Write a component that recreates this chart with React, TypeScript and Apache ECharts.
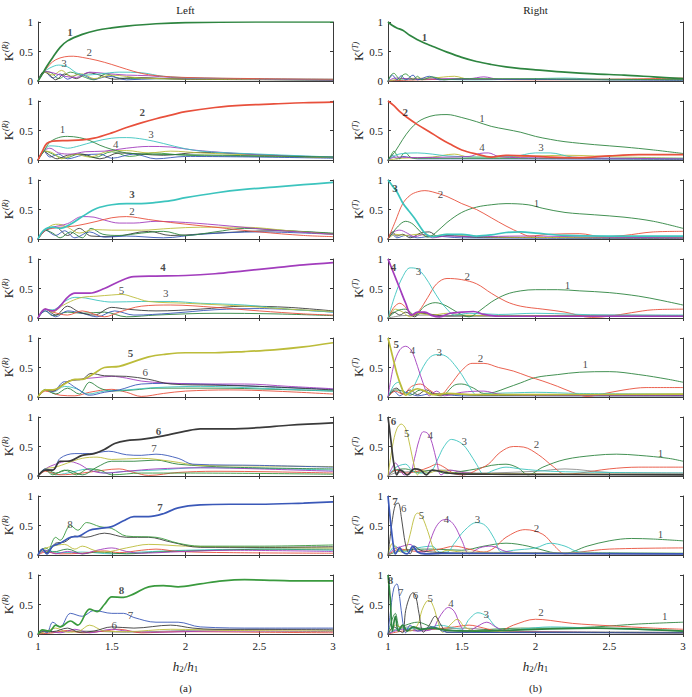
import React, { useEffect, useRef } from 'react';
import * as echarts from 'echarts';

type Curve = { m: number; main?: boolean; pts: number[][] };
type Lab = [number, number, string, boolean];

const X_TICKS = [1, 1.5, 2, 2.5, 3];
const Y_TICKS = [0, 0.5, 1];
const COLUMN_TITLES = ['Left', 'Right'];
const SUBFIG = ['(a)', '(b)'];
const Y_NAMES = ['R', 'T'];

const MODE_COLORS: Record<number, string> = {
  1: '#2e8540', 2: '#e8503c', 3: '#3cc4be', 4: '#a23dbd', 5: '#bcbc3a',
  6: '#3a3a3a', 7: '#3a58b8', 8: '#3a9a3e', 9: '#8c8c8c',
};

// ---------- LEFT column (reflection) ----------
const L1: Curve[] = [
  { m: 8, pts: [[1,0],[1.04,0.16],[1.09,0.14],[1.14,0.04],[1.22,0.15],[1.3,0.08],[1.38,0.02],[1.46,0.12],[1.55,0.05],[1.7,0.04],[3,0.02]] },
  { m: 7, pts: [[1,0],[1.05,0.15],[1.1,0.05],[1.15,0.12],[1.2,0.03],[1.28,0.12],[1.38,0.03],[1.48,0.08],[1.6,0.02],[1.8,0.04],[3,0.01]] },
  { m: 6, pts: [[1,0],[1.04,0.16],[1.08,0.1],[1.12,0.02],[1.18,0.12],[1.26,0.04],[1.34,0.14],[1.42,0.1],[1.52,0.03],[1.65,0.06],[2,0.03],[3,0.02]] },
  { m: 5, pts: [[1,0],[1.05,0.15],[1.1,0.1],[1.16,0.18],[1.22,0.08],[1.3,0.12],[1.38,0.04],[1.5,0.1],[1.7,0.05],[2.2,0.03],[3,0.02]] },
  { m: 4, pts: [[1,0],[1.05,0.16],[1.1,0.14],[1.18,0.08],[1.26,0.06],[1.35,0.15],[1.45,0.13],[1.6,0.1],[1.75,0.09],[1.9,0.06],[2.3,0.04],[3,0.02]] },
  { m: 3, pts: [[1,0],[1.04,0.15],[1.08,0.22],[1.14,0.27],[1.2,0.24],[1.26,0.14],[1.32,0.1],[1.42,0.12],[1.55,0.15],[1.7,0.14],[1.85,0.08],[2.1,0.05],[3,0.03]] },
  { m: 2, pts: [[1,0],[1.04,0.15],[1.08,0.28],[1.12,0.36],[1.18,0.41],[1.24,0.42],[1.3,0.4],[1.4,0.35],[1.5,0.28],[1.6,0.2],[1.7,0.13],[1.8,0.09],[2,0.06],[2.5,0.04],[3,0.03]] },
  { m: 1, main: true, pts: [[1,0],[1.03,0.12],[1.06,0.25],[1.1,0.4],[1.15,0.57],[1.2,0.68],[1.3,0.79],[1.4,0.86],[1.5,0.9],[1.6,0.93],[1.8,0.97],[2,0.99],[2.5,1],[3,1]] },
];
const L1_LABELS: Lab[] = [[1.22,0.82,'1',true],[1.35,0.48,'2',false],[1.18,0.3,'3',false]];

const L2: Curve[] = [
  { m: 8, pts: [[1,0],[1.05,0.15],[1.1,0.1],[1.18,0.03],[1.28,0.1],[1.38,0.04],[1.5,0.14],[1.62,0.06],[1.78,0.12],[2,0.08],[2.5,0.06],[3,0.04]] },
  { m: 7, pts: [[1,0],[1.04,0.15],[1.08,0.05],[1.14,0.1],[1.2,0.02],[1.3,0.08],[1.42,0.1],[1.5,0.03],[1.65,0.1],[1.8,0.02],[2,0.06],[3,0.03]] },
  { m: 6, pts: [[1,0],[1.04,0.15],[1.08,0.08],[1.13,0.02],[1.2,0.08],[1.3,0.1],[1.42,0.02],[1.55,0.12],[1.7,0.1],[1.85,0.08],[2.1,0.13],[2.4,0.1],[2.8,0.06],[3,0.05]] },
  { m: 5, pts: [[1,0],[1.05,0.15],[1.1,0.12],[1.16,0.02],[1.25,0.1],[1.35,0.05],[1.48,0.15],[1.6,0.16],[1.75,0.12],[1.9,0.15],[2.1,0.12],[2.5,0.08],[3,0.04]] },
  { m: 4, pts: [[1,0],[1.04,0.15],[1.08,0.2],[1.14,0.12],[1.22,0.1],[1.32,0.14],[1.45,0.15],[1.6,0.2],[1.75,0.23],[1.9,0.22],[2.05,0.17],[2.3,0.12],[2.6,0.08],[3,0.05]] },
  { m: 3, pts: [[1,0],[1.04,0.15],[1.08,0.24],[1.14,0.23],[1.2,0.2],[1.28,0.24],[1.38,0.31],[1.5,0.37],[1.6,0.38],[1.72,0.35],[1.85,0.28],[2,0.19],[2.15,0.14],[2.5,0.1],[3,0.05]] },
  { m: 1, pts: [[1,0],[1.04,0.15],[1.08,0.3],[1.14,0.38],[1.2,0.4],[1.28,0.38],[1.35,0.33],[1.42,0.25],[1.5,0.18],[1.6,0.12],[1.75,0.1],[2,0.09],[2.5,0.07],[3,0.05]] },
  { m: 2, main: true, pts: [[1,0],[1.03,0.15],[1.06,0.28],[1.1,0.32],[1.2,0.33],[1.3,0.34],[1.38,0.37],[1.5,0.46],[1.6,0.55],[1.7,0.63],[1.8,0.7],[1.9,0.76],[2,0.82],[2.2,0.89],[2.4,0.93],[2.6,0.95],[2.8,0.97],[3,0.98]] },
];
const L2_LABELS: Lab[] = [[1.17,0.52,'1',false],[1.71,0.8,'2',true],[1.77,0.44,'3',false],[1.53,0.27,'4',false]];

const L3: Curve[] = [
  { m: 6, pts: [[1,0],[1.05,0.14],[1.12,0.2],[1.2,0.06],[1.28,0.18],[1.36,0.05],[1.5,0.04],[1.75,0.13],[1.9,0.06],[2.2,0.1],[2.6,0.14],[3,0.09]] },
  { m: 7, pts: [[1,0],[1.05,0.15],[1.12,0.06],[1.18,0.14],[1.25,0.02],[1.35,0.12],[1.45,0.03],[1.6,0.05],[1.85,0.02],[2.1,0.08],[2.5,0.12],[3,0.08]] },
  { m: 1, pts: [[1,0],[1.05,0.15],[1.1,0.1],[1.15,0.02],[1.22,0.12],[1.3,0.02],[1.36,0.18],[1.44,0.08],[1.55,0.06],[1.7,0.1],[1.85,0.13],[2,0.06],[2.2,0.12],[2.4,0.18],[2.7,0.14],[3,0.1]] },
  { m: 5, pts: [[1,0],[1.05,0.15],[1.1,0.24],[1.14,0.25],[1.2,0.2],[1.28,0.1],[1.38,0.16],[1.5,0.15],[1.7,0.15],[1.9,0.18],[2.1,0.2],[2.4,0.2],[2.7,0.14],[3,0.08]] },
  { m: 4, pts: [[1,0],[1.05,0.15],[1.1,0.2],[1.2,0.26],[1.3,0.38],[1.38,0.37],[1.45,0.32],[1.55,0.27],[1.65,0.27],[1.8,0.3],[2,0.28],[2.3,0.22],[2.6,0.15],[3,0.08]] },
  { m: 2, pts: [[1,0],[1.05,0.15],[1.1,0.18],[1.15,0.2],[1.25,0.22],[1.4,0.3],[1.5,0.36],[1.6,0.38],[1.75,0.33],[1.9,0.28],[2.2,0.2],[2.5,0.12],[2.8,0.06],[3,0.04]] },
  { m: 3, main: true, pts: [[1,0],[1.04,0.15],[1.1,0.2],[1.15,0.18],[1.22,0.25],[1.3,0.38],[1.4,0.52],[1.5,0.58],[1.6,0.6],[1.7,0.6],[1.8,0.62],[1.9,0.65],[2,0.7],[2.2,0.78],[2.4,0.84],[2.6,0.88],[2.8,0.92],[3,0.96]] },
];
const L3_LABELS: Lab[] = [[1.64,0.75,'3',true],[1.64,0.47,'2',false]];

const L4: Curve[] = [
  { m: 1, pts: [[1,0],[1.05,0.12],[1.1,0.04],[1.2,0.1],[1.3,0.08],[1.45,0.1],[1.6,0.02],[1.8,0.05],[2.2,0.08],[2.6,0.07],[3,0.04]] },
  { m: 7, pts: [[1,0],[1.05,0.12],[1.12,0.02],[1.2,0.12],[1.3,0.08],[1.4,0.02],[1.52,0.12],[1.65,0.05],[1.9,0.08],[2.2,0.14],[2.5,0.16],[3,0.1]] },
  { m: 6, pts: [[1,0],[1.05,0.15],[1.12,0.05],[1.2,0.2],[1.28,0.1],[1.38,0.05],[1.5,0.18],[1.6,0.15],[1.8,0.12],[2.1,0.15],[2.4,0.2],[2.7,0.18],[3,0.12]] },
  { m: 2, pts: [[1,0],[1.05,0.15],[1.1,0.1],[1.2,0.05],[1.3,0.12],[1.45,0.02],[1.55,0.1],[1.7,0.2],[1.9,0.22],[2.2,0.18],[2.5,0.12],[2.8,0.07],[3,0.05]] },
  { m: 3, pts: [[1,0],[1.05,0.14],[1.1,0.14],[1.18,0.28],[1.25,0.35],[1.32,0.34],[1.4,0.3],[1.5,0.27],[1.7,0.28],[1.9,0.28],[2.1,0.25],[2.4,0.22],[2.7,0.15],[3,0.1]] },
  { m: 5, pts: [[1,0],[1.05,0.15],[1.1,0.1],[1.16,0.2],[1.22,0.28],[1.3,0.35],[1.4,0.37],[1.5,0.39],[1.57,0.4],[1.65,0.35],[1.75,0.28],[2,0.25],[2.4,0.2],[2.7,0.15],[3,0.11]] },
  { m: 4, main: true, pts: [[1,0],[1.05,0.15],[1.1,0.12],[1.15,0.2],[1.2,0.35],[1.25,0.42],[1.35,0.42],[1.45,0.5],[1.55,0.62],[1.65,0.7],[1.8,0.71],[2,0.72],[2.2,0.75],[2.4,0.8],[2.6,0.85],[2.8,0.9],[3,0.94]] },
];
const L4_LABELS: Lab[] = [[1.85,0.86,'4',true],[1.57,0.46,'5',false],[1.87,0.42,'3',false]];

const L5: Curve[] = [
  { m: 2, pts: [[1,0],[1.05,0.1],[1.15,0.03],[1.25,0.02],[1.35,0.08],[1.5,0.13],[1.6,0.08],[1.7,0.01],[1.85,0.06],[2,0.1],[2.3,0.12],[2.6,0.1],[3,0.05]] },
  { m: 1, pts: [[1,0],[1.05,0.12],[1.12,0.05],[1.2,0.15],[1.28,0.05],[1.35,0.25],[1.42,0.15],[1.5,0.1],[1.65,0.12],[1.8,0.15],[2.2,0.15],[2.6,0.13],[3,0.1]] },
  { m: 3, pts: [[1,0],[1.05,0.13],[1.1,0.08],[1.18,0.18],[1.26,0.14],[1.34,0.05],[1.45,0.1],[1.6,0.12],[1.8,0.16],[2.1,0.18],[2.5,0.15],[3,0.1]] },
  { m: 7, pts: [[1,0],[1.05,0.12],[1.1,0.1],[1.18,0.26],[1.26,0.15],[1.35,0.03],[1.45,0.08],[1.55,0.12],[1.7,0.22],[1.85,0.23],[2.1,0.22],[2.5,0.18],[3,0.13]] },
  { m: 4, pts: [[1,0],[1.05,0.12],[1.1,0.1],[1.2,0.26],[1.28,0.3],[1.4,0.33],[1.5,0.35],[1.6,0.32],[1.7,0.27],[1.85,0.24],[2.1,0.22],[2.4,0.22],[2.7,0.18],[3,0.14]] },
  { m: 6, pts: [[1,0],[1.05,0.12],[1.1,0.1],[1.16,0.2],[1.22,0.28],[1.3,0.3],[1.36,0.4],[1.45,0.36],[1.6,0.35],[1.75,0.3],[1.9,0.22],[2.2,0.2],[2.5,0.18],[3,0.12]] },
  { m: 5, main: true, pts: [[1,0],[1.05,0.12],[1.1,0.12],[1.2,0.25],[1.25,0.3],[1.3,0.3],[1.38,0.4],[1.45,0.5],[1.55,0.52],[1.65,0.6],[1.75,0.68],[1.85,0.72],[2,0.75],[2.2,0.75],[2.4,0.77],[2.6,0.8],[2.8,0.85],[3,0.92]] },
];
const L5_LABELS: Lab[] = [[1.63,0.74,'5',true],[1.73,0.42,'6',false]];

const L6: Curve[] = [
  { m: 3, pts: [[1,0],[1.05,0.1],[1.12,0.02],[1.2,0.05],[1.35,0.12],[1.45,0.05],[1.6,0.08],[1.8,0.1],[2.1,0.14],[2.5,0.13],[3,0.1]] },
  { m: 2, pts: [[1,0],[1.05,0.08],[1.15,0.02],[1.3,0.05],[1.45,0.1],[1.55,0.12],[1.65,0.06],[1.75,0.01],[1.95,0.06],[2.2,0.08],[2.6,0.07],[3,0.05]] },
  { m: 8, pts: [[1,0],[1.05,0.1],[1.1,0.02],[1.18,0.1],[1.26,0.02],[1.34,0.12],[1.42,0.1],[1.5,0.02],[1.7,0.05],[2,0.05],[3,0.03]] },
  { m: 4, pts: [[1,0],[1.05,0.12],[1.12,0.2],[1.2,0.25],[1.28,0.2],[1.35,0.1],[1.45,0.05],[1.6,0.08],[1.8,0.12],[2.1,0.14],[2.5,0.12],[3,0.08]] },
  { m: 1, pts: [[1,0],[1.05,0.12],[1.12,0.05],[1.2,0.1],[1.3,0.02],[1.4,0.15],[1.5,0.25],[1.65,0.25],[1.8,0.27],[1.95,0.2],[2.3,0.15],[3,0.12]] },
  { m: 5, pts: [[1,0],[1.05,0.12],[1.12,0.15],[1.2,0.22],[1.3,0.3],[1.4,0.32],[1.5,0.28],[1.7,0.3],[1.9,0.25],[2.1,0.18],[2.5,0.17],[3,0.16]] },
  { m: 7, pts: [[1,0],[1.05,0.12],[1.1,0.1],[1.15,0.3],[1.25,0.38],[1.35,0.38],[1.48,0.42],[1.6,0.36],[1.7,0.35],[1.8,0.37],[1.95,0.3],[2.05,0.2],[2.5,0.18],[3,0.15]] },
  { m: 6, main: true, pts: [[1,0],[1.05,0.1],[1.1,0.1],[1.15,0.25],[1.2,0.25],[1.3,0.35],[1.38,0.38],[1.45,0.45],[1.52,0.55],[1.6,0.6],[1.7,0.62],[1.85,0.68],[2,0.76],[2.1,0.8],[2.3,0.8],[2.5,0.82],[2.7,0.86],[3,0.9]] },
];
const L6_LABELS: Lab[] = [[1.82,0.75,'6',true],[1.79,0.47,'7',false]];

const L7: Curve[] = [
  { m: 3, pts: [[1,0],[1.05,0.08],[1.15,0.04],[1.3,0.05],[1.5,0.02],[1.7,0.05],[2,0.08],[2.5,0.1],[3,0.08]] },
  { m: 1, pts: [[1,0],[1.05,0.12],[1.1,0.05],[1.2,0.1],[1.3,0.02],[1.4,0.05],[1.6,0.02],[1.8,0.05],[2.2,0.08],[2.6,0.1],[3,0.1]] },
  { m: 2, pts: [[1,0],[1.05,0.05],[1.15,0.02],[1.3,0.03],[1.45,0.07],[1.55,0.04],[1.7,0.08],[1.8,0.1],[1.95,0.06],[2.3,0.04],[3,0.03]] },
  { m: 4, pts: [[1,0],[1.05,0.08],[1.12,0.02],[1.2,0.06],[1.3,0.02],[1.4,0.08],[1.5,0.12],[1.6,0.06],[1.7,0.03],[1.9,0.05],[2.3,0.08],[3,0.06]] },
  { m: 5, pts: [[1,0],[1.04,0.1],[1.1,0.15],[1.18,0.18],[1.25,0.1],[1.3,0.15],[1.38,0.08],[1.45,0.05],[1.6,0.12],[1.75,0.18],[2,0.15],[2.5,0.13],[3,0.12]] },
  { m: 6, pts: [[1,0],[1.03,0.1],[1.06,0.04],[1.12,0.2],[1.18,0.22],[1.25,0.32],[1.32,0.3],[1.45,0.37],[1.6,0.3],[1.75,0.3],[1.9,0.22],[2.1,0.13],[2.5,0.13],[3,0.14]] },
  { m: 8, pts: [[1,0],[1.03,0.1],[1.06,0.05],[1.12,0.3],[1.15,0.25],[1.22,0.5],[1.27,0.42],[1.33,0.55],[1.42,0.48],[1.5,0.45],[1.6,0.32],[1.8,0.3],[1.95,0.2],[2.1,0.15],[2.5,0.15],[3,0.17]] },
  { m: 7, main: true, pts: [[1,0],[1.03,0.1],[1.06,0.02],[1.1,0.15],[1.15,0.2],[1.22,0.3],[1.28,0.32],[1.35,0.42],[1.42,0.45],[1.5,0.48],[1.58,0.58],[1.65,0.65],[1.75,0.65],[1.85,0.7],[1.95,0.8],[2.1,0.85],[2.3,0.86],[2.5,0.86],[2.8,0.88],[3,0.9]] },
];
const L7_LABELS: Lab[] = [[1.83,0.8,'7',true],[1.22,0.52,'8',false]];

const L8: Curve[] = [
  { m: 9, pts: [[1,0],[1.1,0.03],[1.3,0.05],[1.6,0.03],[2,0.06],[2.5,0.08],[3,0.06]] },
  { m: 2, pts: [[1,0],[1.1,0.02],[1.2,0.06],[1.3,0.02],[1.45,0.05],[1.55,0.08],[1.7,0.02],[1.95,0.04],[2.5,0.03],[3,0.02]] },
  { m: 4, pts: [[1,0],[1.06,0.05],[1.15,0.02],[1.25,0.08],[1.35,0.02],[1.5,0.08],[1.6,0.05],[1.8,0.03],[2.2,0.05],[3,0.04]] },
  { m: 5, pts: [[1,0],[1.05,0.04],[1.12,0.1],[1.2,0.03],[1.28,0.05],[1.35,0.15],[1.45,0.05],[1.6,0.04],[1.9,0.08],[2.3,0.06],[3,0.05]] },
  { m: 6, pts: [[1,0],[1.04,0.05],[1.1,0.04],[1.2,0.1],[1.28,0.03],[1.38,0.05],[1.5,0.12],[1.65,0.1],[1.9,0.15],[2.05,0.1],[2.2,0.08],[2.6,0.08],[3,0.08]] },
  { m: 7, pts: [[1,0],[1.03,0.06],[1.06,0.02],[1.1,0.2],[1.15,0.12],[1.22,0.35],[1.3,0.3],[1.38,0.4],[1.5,0.35],[1.58,0.35],[1.65,0.28],[1.8,0.2],[1.95,0.2],[2.1,0.12],[2.5,0.1],[3,0.1]] },
  { m: 8, main: true, pts: [[1,0],[1.03,0.07],[1.08,0.05],[1.12,0.15],[1.15,0.12],[1.22,0.22],[1.27,0.15],[1.35,0.42],[1.4,0.38],[1.45,0.5],[1.5,0.63],[1.58,0.62],[1.65,0.68],[1.75,0.8],[1.85,0.82],[1.95,0.8],[2.1,0.85],[2.25,0.9],[2.4,0.92],[2.6,0.91],[2.8,0.9],[3,0.9]] },
];
const L8_LABELS: Lab[] = [[1.57,0.73,'8',true],[1.63,0.32,'7',false],[1.52,0.15,'6',false]];

// ---------- RIGHT column (transmission) ----------
const R1: Curve[] = [
  { m: 3, pts: [[1,0],[1.2,0.03],[1.6,0.02],[2,0.04],[2.2,0.05],[2.5,0.02],[3,0.03]] },
  { m: 2, pts: [[1,0],[1.2,0.02],[1.5,0.03],[2,0.02],[2.5,0.03],[3,0.05]] },
  { m: 5, pts: [[1,0],[1.1,0.04],[1.3,0.05],[1.45,0.08],[1.55,0.03],[1.8,0.03],[2.5,0.02],[3,0.03]] },
  { m: 4, pts: [[1,0],[1.05,0.05],[1.2,0.03],[1.4,0.04],[1.55,0.04],[1.65,0.07],[1.75,0.03],[2,0.03],[3,0.02]] },
  { m: 7, pts: [[1,0],[1.03,0.1],[1.06,0.02],[1.09,0.09],[1.12,0.02],[1.17,0.1],[1.2,0.02],[1.28,0.08],[1.35,0.02],[1.5,0.03],[3,0.01]] },
  { m: 8, pts: [[1,0],[1.02,0.1],[1.04,0.13],[1.06,0.08],[1.08,0.02],[1.1,0.1],[1.12,0.12],[1.15,0.06],[1.17,0.02],[1.2,0.08],[1.23,0.02],[1.3,0.07],[1.38,0.02],[1.5,0.04],[3,0.02]] },
  { m: 1, main: true, pts: [[1,1],[1.03,0.94],[1.06,0.9],[1.1,0.86],[1.15,0.77],[1.2,0.7],[1.25,0.64],[1.3,0.59],[1.4,0.49],[1.5,0.4],[1.6,0.33],[1.7,0.28],[1.8,0.24],[1.9,0.21],[2,0.19],[2.2,0.15],[2.4,0.12],[2.6,0.1],[2.8,0.07],[3,0.04]] },
];
const R1_LABELS: Lab[] = [[1.25,0.74,'1',true]];

const R2: Curve[] = [
  { m: 7, pts: [[1,0],[1.03,0.08],[1.06,0.02],[1.1,0.06],[1.2,0.02],[1.5,0.02],[3,0.01]] },
  { m: 5, pts: [[1,0],[1.1,0.03],[1.3,0.05],[1.45,0.1],[1.55,0.05],[1.8,0.05],[2.2,0.08],[2.6,0.05],[3,0.03]] },
  { m: 8, pts: [[1,0],[1.02,0.08],[1.04,0.15],[1.06,0.08],[1.08,0.02],[1.1,0.1],[1.12,0.12],[1.15,0.05],[1.2,0.03],[1.4,0.03],[3,0.02]] },
  { m: 3, pts: [[1,0],[1.05,0.08],[1.1,0.11],[1.2,0.12],[1.3,0.1],[1.4,0.07],[1.6,0.05],[1.85,0.06],[2,0.12],[2.1,0.12],[2.25,0.05],[2.5,0.03],[3,0.03]] },
  { m: 4, pts: [[1,0],[1.05,0.05],[1.2,0.04],[1.4,0.05],[1.55,0.06],[1.62,0.11],[1.68,0.12],[1.75,0.06],[1.9,0.04],[2.5,0.03],[3,0.02]] },
  { m: 1, pts: [[1,0],[1.05,0.15],[1.1,0.35],[1.15,0.52],[1.2,0.64],[1.25,0.71],[1.32,0.76],[1.4,0.77],[1.5,0.72],[1.6,0.65],[1.7,0.57],[1.8,0.52],[1.9,0.47],[2,0.4],[2.1,0.35],[2.2,0.31],[2.4,0.26],[2.6,0.22],[2.8,0.17],[3,0.11]] },
  { m: 2, main: true, pts: [[1,1],[1.04,0.92],[1.08,0.82],[1.13,0.72],[1.2,0.6],[1.28,0.48],[1.35,0.37],[1.42,0.27],[1.5,0.17],[1.6,0.1],[1.7,0.05],[1.8,0.08],[1.95,0.07],[2.1,0.05],[2.3,0.04],[2.5,0.07],[2.7,0.09],[3,0.09]] },
];
const R2_LABELS: Lab[] = [[1.12,0.8,'2',true],[1.64,0.71,'1',false],[1.64,0.21,'4',false],[2.04,0.21,'3',false]];

const R3: Curve[] = [
  { m: 7, pts: [[1,0],[1.03,0.08],[1.06,0.02],[1.12,0.06],[1.2,0.02],[1.3,0.05],[1.5,0.02],[3,0.01]] },
  { m: 6, pts: [[1,0],[1.03,0.12],[1.06,0.05],[1.1,0.08],[1.15,0.02],[1.22,0.1],[1.28,0.12],[1.34,0.04],[1.4,0.06],[1.6,0.03],[3,0.02]] },
  { m: 5, pts: [[1,0],[1.05,0.08],[1.12,0.06],[1.2,0.08],[1.3,0.05],[1.4,0.08],[1.55,0.05],[1.8,0.03],[3,0.02]] },
  { m: 4, pts: [[1,0],[1.04,0.12],[1.08,0.15],[1.13,0.1],[1.18,0.04],[1.25,0.08],[1.3,0.02],[1.4,0.05],[1.6,0.04],[1.9,0.05],[2.5,0.03],[3,0.02]] },
  { m: 1, pts: [[1,0],[1.07,0.22],[1.12,0.3],[1.17,0.25],[1.22,0.12],[1.27,0.03],[1.32,0.1],[1.4,0.28],[1.5,0.45],[1.6,0.54],[1.7,0.58],[1.8,0.6],[1.95,0.58],[2.05,0.52],[2.2,0.45],[2.4,0.41],[2.6,0.37],[2.8,0.3],[3,0.18]] },
  { m: 2, pts: [[1,0],[1.05,0.3],[1.1,0.6],[1.15,0.74],[1.2,0.8],[1.25,0.82],[1.3,0.8],[1.4,0.72],[1.5,0.6],[1.6,0.5],[1.7,0.36],[1.8,0.22],[1.9,0.1],[1.96,0.05],[2.1,0.08],[2.3,0.09],[2.45,0.04],[2.6,0.06],[2.8,0.12],[3,0.13]] },
  { m: 3, main: true, pts: [[1,1],[1.03,0.9],[1.06,0.8],[1.1,0.61],[1.14,0.48],[1.18,0.35],[1.22,0.2],[1.25,0.1],[1.3,0.04],[1.4,0.08],[1.5,0.08],[1.6,0.05],[1.7,0.07],[1.8,0.11],[1.9,0.12],[2,0.1],[2.2,0.06],[2.5,0.05],[3,0.05]] },
];
const R3_LABELS: Lab[] = [[1.05,0.86,'3',true],[1.36,0.75,'2',false],[2.01,0.61,'1',false]];

const R4: Curve[] = [
  { m: 9, pts: [[1,0],[1.1,0.04],[1.3,0.05],[1.6,0.03],[2,0.04],[2.5,0.05],[3,0.04]] },
  { m: 6, pts: [[1,0],[1.04,0.1],[1.08,0.05],[1.12,0.1],[1.18,0.02],[1.22,0.08],[1.3,0.06],[1.4,0.03],[1.6,0.04],[3,0.03]] },
  { m: 5, pts: [[1,0],[1.05,0.15],[1.1,0.1],[1.15,0.02],[1.2,0.08],[1.3,0.05],[1.4,0.08],[1.5,0.05],[1.7,0.04],[3,0.03]] },
  { m: 1, pts: [[1,0],[1.06,0.12],[1.12,0.15],[1.18,0.05],[1.25,0.2],[1.32,0.26],[1.4,0.2],[1.48,0.08],[1.55,0.02],[1.62,0.12],[1.7,0.27],[1.8,0.4],[1.9,0.46],[2,0.48],[2.15,0.48],[2.3,0.46],[2.5,0.43],[2.7,0.37],[2.85,0.3],[3,0.22]] },
  { m: 2, pts: [[1,0],[1.04,0.18],[1.08,0.25],[1.12,0.18],[1.17,0.05],[1.21,0.12],[1.27,0.35],[1.33,0.58],[1.4,0.67],[1.5,0.65],[1.6,0.58],[1.7,0.42],[1.8,0.28],[1.9,0.2],[2.05,0.15],[2.2,0.1],[2.38,0.01],[2.5,0.03],[2.65,0.09],[2.8,0.14],[3,0.15]] },
  { m: 3, pts: [[1,0],[1.05,0.4],[1.1,0.7],[1.15,0.85],[1.2,0.83],[1.25,0.7],[1.3,0.5],[1.35,0.3],[1.4,0.15],[1.45,0.05],[1.55,0.08],[1.75,0.06],[2,0.08],[2.5,0.05],[3,0.05]] },
  { m: 4, main: true, pts: [[1,1],[1.04,0.75],[1.08,0.5],[1.12,0.25],[1.16,0.05],[1.2,0.1],[1.25,0.1],[1.3,0.04],[1.35,0.02],[1.42,0.08],[1.5,0.1],[1.58,0.11],[1.65,0.06],[1.75,0.03],[2,0.03],[3,0.03]] },
];
const R4_LABELS: Lab[] = [[1.04,0.85,'4',true],[1.21,0.79,'3',false],[1.54,0.71,'2',false],[2.22,0.55,'1',false]];

const R5: Curve[] = [
  { m: 7, pts: [[1,0],[1.04,0.1],[1.08,0.02],[1.12,0.08],[1.2,0.02],[1.3,0.06],[1.5,0.02],[2,0.02],[3,0.02]] },
  { m: 6, pts: [[1,0],[1.03,0.12],[1.06,0.15],[1.1,0.05],[1.15,0.12],[1.2,0.04],[1.26,0.12],[1.32,0.05],[1.45,0.05],[1.6,0.03],[3,0.02]] },
  { m: 1, pts: [[1,0],[1.05,0.12],[1.1,0.1],[1.15,0.03],[1.22,0.12],[1.3,0.05],[1.36,0.02],[1.45,0.2],[1.5,0.22],[1.58,0.15],[1.65,0.06],[1.72,0.08],[1.8,0.15],[1.9,0.24],[2,0.33],[2.15,0.38],[2.3,0.42],[2.5,0.43],[2.7,0.38],[2.9,0.3],[3,0.25]] },
  { m: 2, pts: [[1,0],[1.05,0.1],[1.1,0.05],[1.16,0.18],[1.22,0.22],[1.28,0.12],[1.35,0.03],[1.42,0.2],[1.5,0.45],[1.57,0.57],[1.65,0.57],[1.75,0.5],[1.85,0.44],[1.95,0.35],[2.05,0.27],[2.15,0.18],[2.25,0.08],[2.35,0.01],[2.45,0.05],[2.6,0.12],[2.75,0.16],[3,0.16]] },
  { m: 3, pts: [[1,0],[1.04,0.2],[1.07,0.25],[1.1,0.12],[1.14,0.05],[1.18,0.2],[1.22,0.42],[1.26,0.6],[1.3,0.7],[1.35,0.72],[1.4,0.68],[1.45,0.55],[1.5,0.38],[1.55,0.18],[1.6,0.04],[1.7,0.06],[1.85,0.07],[2,0.08],[2.3,0.06],[3,0.05]] },
  { m: 4, pts: [[1,0],[1.04,0.55],[1.08,0.8],[1.12,0.86],[1.16,0.78],[1.2,0.52],[1.24,0.22],[1.28,0.02],[1.33,0.1],[1.38,0.02],[1.5,0.08],[1.65,0.1],[1.75,0.05],[2,0.03],[3,0.03]] },
  { m: 5, main: true, pts: [[1,1],[1.03,0.7],[1.06,0.4],[1.09,0.18],[1.12,0.03],[1.16,0.1],[1.2,0.14],[1.25,0.1],[1.3,0.04],[1.4,0.06],[1.6,0.04],[2,0.04],[3,0.05]] },
];
const R5_LABELS: Lab[] = [[1.06,0.89,'5',true],[1.17,0.79,'4',false],[1.35,0.75,'3',false],[1.63,0.65,'2',false],[2.34,0.55,'1',false]];

const R6: Curve[] = [
  { m: 9, pts: [[1,0],[1.05,0.05],[1.2,0.08],[1.4,0.1],[1.6,0.05],[2,0.08],[2.2,0.12],[2.5,0.06],[3,0.05]] },
  { m: 1, pts: [[1,0],[1.05,0.1],[1.12,0.12],[1.2,0.06],[1.3,0.1],[1.4,0.04],[1.5,0.08],[1.6,0.12],[1.7,0.18],[1.8,0.2],[1.88,0.14],[1.95,0.02],[2.05,0.15],[2.2,0.28],[2.4,0.35],[2.55,0.37],[2.7,0.35],[2.9,0.3],[3,0.25]] },
  { m: 2, pts: [[1,0],[1.05,0.1],[1.12,0.05],[1.2,0.08],[1.28,0.15],[1.33,0.2],[1.38,0.15],[1.45,0.04],[1.52,0.02],[1.6,0.1],[1.68,0.2],[1.76,0.4],[1.85,0.5],[1.92,0.49],[2.02,0.36],[2.12,0.16],[2.2,0.03],[2.3,0.05],[2.5,0.12],[2.7,0.15],[3,0.15]] },
  { m: 3, pts: [[1,0],[1.04,0.12],[1.08,0.18],[1.12,0.2],[1.16,0.1],[1.2,0.05],[1.26,0.05],[1.3,0.1],[1.34,0.3],[1.38,0.5],[1.43,0.62],[1.5,0.55],[1.55,0.4],[1.6,0.2],[1.65,0.03],[1.72,0.1],[1.8,0.15],[1.9,0.12],[2.1,0.08],[2.5,0.06],[3,0.05]] },
  { m: 4, pts: [[1,0],[1.03,0.15],[1.05,0.22],[1.08,0.12],[1.11,0.02],[1.15,0.04],[1.18,0.3],[1.21,0.6],[1.24,0.75],[1.27,0.72],[1.3,0.55],[1.33,0.25],[1.36,0.02],[1.42,0.1],[1.5,0.06],[1.7,0.03],[3,0.03]] },
  { m: 5, pts: [[1,0],[1.03,0.5],[1.06,0.8],[1.09,0.88],[1.12,0.8],[1.15,0.5],[1.18,0.15],[1.2,0.02],[1.23,0.1],[1.27,0.05],[1.35,0.1],[1.45,0.05],[1.7,0.04],[3,0.03]] },
  { m: 6, main: true, pts: [[1,1],[1.02,0.6],[1.04,0.2],[1.06,0.02],[1.08,0.1],[1.1,0.08],[1.13,0.02],[1.18,0.12],[1.22,0.1],[1.26,0.02],[1.3,0.1],[1.35,0.08],[1.45,0.04],[1.7,0.03],[3,0.02]] },
];
const R6_LABELS: Lab[] = [[1.04,0.93,'6',true],[1.13,0.72,'5',false],[1.29,0.68,'4',false],[1.52,0.59,'3',false],[2.01,0.53,'2',false],[2.85,0.38,'1',false]];

const R7: Curve[] = [
  { m: 1, pts: [[1,0],[1.1,0.08],[1.3,0.1],[1.5,0.08],[1.65,0.15],[1.8,0.2],[1.95,0.15],[2.1,0.05],[2.2,0.03],[2.35,0.15],[2.5,0.24],[2.65,0.28],[2.8,0.27],[3,0.24]] },
  { m: 2, pts: [[1,0],[1.08,0.1],[1.2,0.06],[1.35,0.1],[1.45,0.15],[1.55,0.1],[1.65,0.05],[1.72,0.12],[1.8,0.3],[1.93,0.43],[2.05,0.35],[2.13,0.15],[2.2,0.02],[2.3,0.05],[2.5,0.1],[3,0.12]] },
  { m: 3, pts: [[1,0],[1.05,0.15],[1.1,0.05],[1.2,0.12],[1.3,0.15],[1.35,0.05],[1.4,0.05],[1.45,0.2],[1.52,0.42],[1.6,0.55],[1.66,0.5],[1.72,0.28],[1.77,0.05],[1.85,0.08],[2,0.12],[2.1,0.2],[2.2,0.15],[2.3,0.05],[3,0.03]] },
  { m: 4, pts: [[1,0],[1.04,0.1],[1.1,0.15],[1.15,0.18],[1.2,0.05],[1.25,0.05],[1.28,0.2],[1.32,0.45],[1.36,0.58],[1.4,0.6],[1.45,0.5],[1.5,0.25],[1.55,0.02],[1.62,0.12],[1.7,0.15],[1.8,0.06],[2,0.03],[3,0.02]] },
  { m: 5, pts: [[1,0],[1.03,0.2],[1.06,0.1],[1.09,0.05],[1.12,0.1],[1.15,0.35],[1.18,0.65],[1.2,0.71],[1.23,0.65],[1.27,0.4],[1.31,0.1],[1.34,0.02],[1.4,0.08],[1.5,0.05],[3,0.03]] },
  { m: 6, pts: [[1,0],[1.03,0.6],[1.05,0.85],[1.07,0.88],[1.09,0.65],[1.11,0.3],[1.13,0.08],[1.15,0.02],[1.18,0.15],[1.22,0.08],[1.3,0.05],[1.5,0.03],[3,0.02]] },
  { m: 7, main: true, pts: [[1,1],[1.02,0.5],[1.04,0.1],[1.05,0.02],[1.08,0.12],[1.1,0.05],[1.13,0.02],[1.17,0.15],[1.2,0.05],[1.25,0.02],[1.4,0.03],[3,0.02]] },
];
const R7_LABELS: Lab[] = [[1.05,0.9,'7',true],[1.11,0.79,'6',false],[1.23,0.67,'5',false],[1.4,0.61,'4',false],[1.61,0.6,'3',false],[2.01,0.45,'2',false],[2.85,0.34,'1',false]];

const R8: Curve[] = [
  { m: 9, pts: [[1,0],[1.05,0.08],[1.15,0.12],[1.3,0.08],[1.5,0.1],[1.8,0.05],[2.2,0.04],[3,0.03]] },
  { m: 1, pts: [[1,0],[1.05,0.35],[1.08,0.1],[1.12,0.15],[1.2,0.2],[1.3,0.12],[1.5,0.05],[1.7,0.08],[1.9,0.1],[2.1,0.1],[2.4,0.12],[2.7,0.17],[3,0.2]] },
  { m: 2, pts: [[1,0],[1.1,0.05],[1.3,0.08],[1.45,0.12],[1.55,0.15],[1.65,0.1],[1.75,0.05],[1.85,0.15],[2,0.25],[2.1,0.23],[2.25,0.18],[2.5,0.14],[2.8,0.1],[3,0.08]] },
  { m: 3, pts: [[1,0],[1.1,0.1],[1.25,0.08],[1.35,0.15],[1.45,0.1],[1.5,0.08],[1.55,0.25],[1.61,0.36],[1.67,0.3],[1.72,0.15],[1.78,0.05],[1.9,0.08],[2.1,0.12],[2.4,0.1],[3,0.05]] },
  { m: 4, pts: [[1,0],[1.1,0.08],[1.2,0.05],[1.3,0.08],[1.34,0.25],[1.38,0.4],[1.41,0.45],[1.45,0.38],[1.49,0.15],[1.53,0.03],[1.6,0.12],[1.67,0.2],[1.73,0.12],[1.8,0.05],[3,0.02]] },
  { m: 5, pts: [[1,0],[1.05,0.15],[1.1,0.1],[1.15,0.05],[1.2,0.15],[1.23,0.4],[1.26,0.55],[1.28,0.57],[1.31,0.45],[1.34,0.2],[1.37,0.03],[1.42,0.15],[1.47,0.25],[1.52,0.12],[1.6,0.05],[2,0.03],[3,0.02]] },
  { m: 6, pts: [[1,0],[1.04,0.12],[1.08,0.05],[1.1,0.02],[1.12,0.4],[1.15,0.65],[1.17,0.7],[1.19,0.62],[1.21,0.35],[1.24,0.03],[1.28,0.15],[1.32,0.3],[1.36,0.15],[1.4,0.03],[1.6,0.03],[3,0.02]] },
  { m: 7, pts: [[1,0],[1.02,0.45],[1.04,0.78],[1.06,0.85],[1.08,0.6],[1.1,0.2],[1.12,0.02],[1.15,0.15],[1.2,0.05],[1.3,0.12],[1.4,0.03],[3,0.02]] },
  { m: 1, main: true, pts: [[1,1],[1.015,0.6],[1.03,0.05],[1.05,0.3],[1.07,0.05],[1.1,0.15],[1.13,0.05],[1.17,0.12],[1.22,0.08],[1.3,0.1],[1.4,0.06],[1.6,0.05],[2,0.08],[2.4,0.1],[3,0.05]] },
];
const R8_LABELS: Lab[] = [[1.02,0.9,'8',true],[1.09,0.71,'7',false],[1.19,0.65,'6',false],[1.29,0.6,'5',false],[1.43,0.52,'4',false],[1.67,0.33,'3',false],[2.04,0.36,'2',false],[2.88,0.29,'1',false]];

const LEFT_PANELS = [L1, L2, L3, L4, L5, L6, L7, L8];
const LEFT_LABELS = [L1_LABELS, L2_LABELS, L3_LABELS, L4_LABELS, L5_LABELS, L6_LABELS, L7_LABELS, L8_LABELS];
const RIGHT_PANELS = [R1, R2, R3, R4, R5, R6, R7, R8];
const RIGHT_LABELS = [R1_LABELS, R2_LABELS, R3_LABELS, R4_LABELS, R5_LABELS, R6_LABELS, R7_LABELS, R8_LABELS];

const FONT = 'Liberation Serif';
const PANEL_TOPS = [22, 101, 180, 259, 338, 417, 496, 575];
const PANEL_H = 59;
const PANEL_W = 295;
const COL_LEFT = [38, 388];

function buildOption() {
  const grid: any[] = [];
  const xAxis: any[] = [];
  const yAxis: any[] = [];
  const series: any[] = [];
  const axisLine = { show: true, lineStyle: { color: '#3a3a3a', width: 1 } };
  const tick = { show: true, inside: true, length: 3, lineStyle: { color: '#3a3a3a' } };

  [LEFT_PANELS, RIGHT_PANELS].forEach((panels, side) => {
    const labelsSet = side === 0 ? LEFT_LABELS : RIGHT_LABELS;
    panels.forEach((curves, i) => {
      const g = grid.length;
      grid.push({ left: COL_LEFT[side], top: PANEL_TOPS[i], width: PANEL_W, height: PANEL_H, show: false });
      const isBottom = i === panels.length - 1;
      xAxis.push({
        type: 'value', gridIndex: g, min: 1, max: 3, interval: 0.5, position: 'bottom',
        axisLine, axisTick: tick, splitLine: { show: false },
        axisLabel: { show: isBottom, fontFamily: FONT, fontSize: 11, color: '#222', margin: 6,
          formatter: (v: number) => (X_TICKS.includes(v) ? String(v) : '') },
      });
      xAxis.push({
        type: 'value', gridIndex: g, min: 1, max: 3, interval: 0.5, position: 'top',
        axisLine, axisTick: tick, splitLine: { show: false }, axisLabel: { show: false },
      });
      yAxis.push({
        type: 'value', gridIndex: g, min: 0, max: 1, interval: 0.5, position: 'left',
        axisLine, axisTick: tick, splitLine: { show: false },
        axisLabel: { fontFamily: FONT, fontSize: 11, color: '#222', margin: 5,
          formatter: (v: number) => (Y_TICKS.includes(v) ? String(v) : '') },
        name: `{k|K}{s|(${Y_NAMES[side]})}`, nameLocation: 'middle', nameGap: 20, nameRotate: 90,
        nameTextStyle: {
          rich: {
            k: { fontFamily: FONT, fontSize: 13, color: '#222' },
            s: { fontFamily: FONT, fontSize: 8, fontStyle: 'italic', color: '#222', padding: [0, 0, 7, 0] },
          },
        },
      });
      yAxis.push({
        type: 'value', gridIndex: g, min: 0, max: 1, interval: 0.5, position: 'right',
        axisLine, axisTick: tick, splitLine: { show: false }, axisLabel: { show: false },
      });
      const xi = 2 * g;
      const yi = 2 * g;
      curves.forEach((c) => {
        series.push({
          type: 'line', xAxisIndex: xi, yAxisIndex: yi, data: c.pts, showSymbol: false, symbol: 'none',
          smooth: 0.35, clip: true, silent: true, z: c.main ? 3 : 2,
          lineStyle: { color: MODE_COLORS[c.m], width: c.main ? 1.7 : 0.9 },
        });
      });
      series.push({
        type: 'scatter', xAxisIndex: xi, yAxisIndex: yi, symbolSize: 1, silent: true, z: 5,
        itemStyle: { color: 'rgba(0,0,0,0)' },
        data: labelsSet[i].map((l) => ({
          value: [l[0], l[1]],
          label: {
            show: true, position: [0, 0], align: 'center', verticalAlign: 'middle',
            formatter: l[2], fontFamily: FONT, fontSize: 11,
            fontWeight: l[3] ? 'bold' : 'normal', color: '#1a1a1a',
            textBorderWidth: 0,
          },
        })),
      });
    });
  });

  const centers = COL_LEFT.map((l) => l + PANEL_W / 2);
  const graphic: any[] = [];
  centers.forEach((cx, side) => {
    graphic.push({ type: 'text', x: cx, y: 10, style: { text: COLUMN_TITLES[side], font: `11px ${FONT}`, fill: '#222', textAlign: 'center', textVerticalAlign: 'middle' } });
    graphic.push({
      type: 'text', x: cx, y: 666,
      style: {
        text: '{i|h}{b|2}{n|/}{i|h}{b|1}', textAlign: 'center', textVerticalAlign: 'middle',
        rich: {
          i: { fontFamily: FONT, fontSize: 13, fontStyle: 'italic', fill: '#222' },
          n: { fontFamily: FONT, fontSize: 13, fill: '#222' },
          b: { fontFamily: FONT, fontSize: 9, fill: '#222', padding: [6, 0, 0, 0] },
        },
      },
    });
    graphic.push({ type: 'text', x: cx, y: 688, style: { text: SUBFIG[side], font: `11px ${FONT}`, fill: '#222', textAlign: 'center', textVerticalAlign: 'middle' } });
  });

  return { animation: false, backgroundColor: '#ffffff', grid, xAxis, yAxis, series, graphic };
}

export default function App() {
  const ref = useRef<HTMLDivElement>(null);
  useEffect(() => {
    if (!ref.current) return;
    const chart = echarts.init(ref.current, undefined, { renderer: 'svg' });
    chart.setOption(buildOption() as any);
    return () => chart.dispose();
  }, []);
  return <div ref={ref} style={{ position: 'absolute', left: 0, top: 0, width: 692, height: 697 }} />;
}
